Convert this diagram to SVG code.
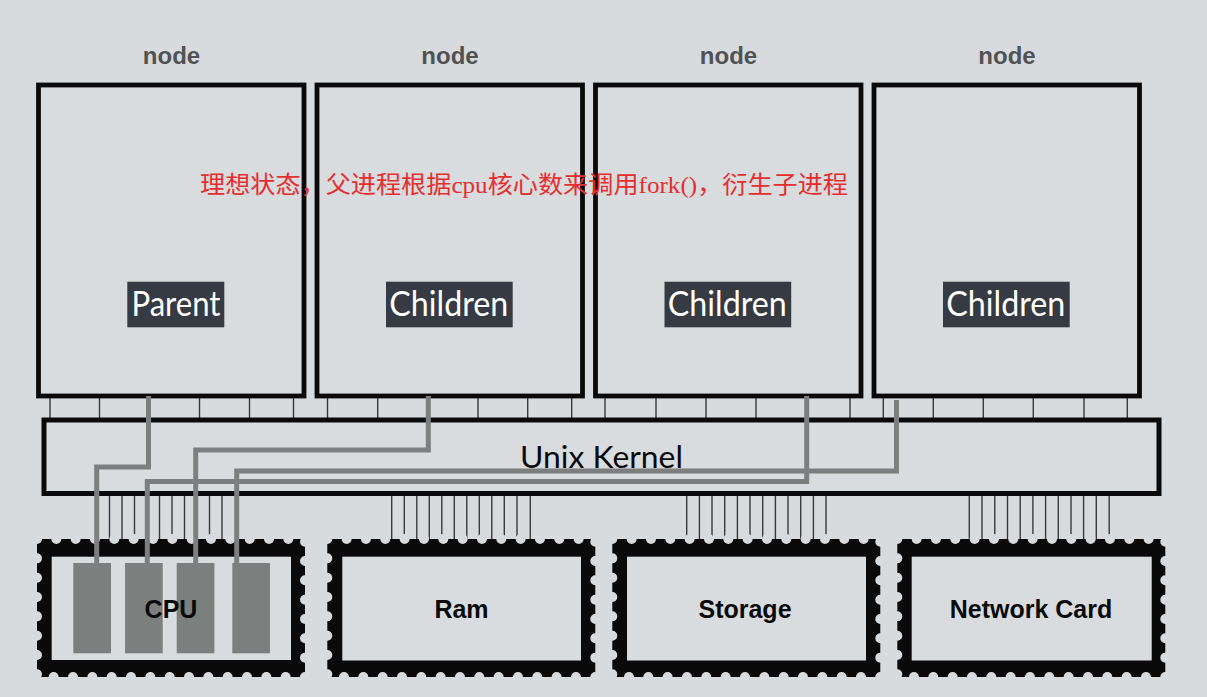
<svg xmlns="http://www.w3.org/2000/svg" width="1207" height="697" viewBox="0 0 1207 697">
<style>
.bg{fill:#d8dbde}
.box{fill:#d9dcdf;stroke:#0a0a0a;stroke-width:4.8}
.title{font-family:"Liberation Sans",Arial,sans-serif;font-weight:bold;font-size:24px;fill:#505254;text-anchor:middle}
.tag{fill:#363a42}
.tagt{font-family:Lato,"Open Sans",sans-serif;font-size:34px;fill:#ffffff;text-anchor:middle}
.kern{fill:#d9dcdf;stroke:#0a0a0a;stroke-width:5}
.kt{font-family:Lato,"Open Sans",sans-serif;font-size:31px;fill:#0a0a0a;text-anchor:middle}
.chip{fill:#0a0a0a}
.perf{fill:none;stroke:#d8dbde;stroke-width:10;stroke-linecap:round;stroke-dasharray:0 19.333}
.inner{fill:#d9dcdf}
.core{fill:#7b7f7e}
.ct{font-family:"Liberation Sans",Arial,sans-serif;font-weight:bold;font-size:25px;fill:#0a0a0a;text-anchor:middle}
.tick{stroke:#3a3a3a;stroke-width:1.4;fill:none}
.wire{stroke:#7d7f7f;stroke-width:5;fill:none;stroke-linejoin:miter}
.note{font-family:"Liberation Serif","Noto Sans CJK SC",serif;font-size:24px;fill:#e62e2e}
</style>
<rect class="bg" x="0" y="0" width="1207" height="697"/>

<g id="connectors">
  <!-- ticks between nodes and kernel -->
  <path class="tick" d="M50 397V419M99.5 397V419M149 397V419M199.5 397V419M249.5 397V419M293.5 397V419
  M327.5 397V419M377.7 397V419M478 397V419M527.7 397V419M571.7 397V419
  M605 397V419M656 397V419M706 397V419M756 397V419M850 397V419
  M883.3 397V419M933.3 397V419M983.3 397V419M1033.3 397V419M1084 397V419M1127.3 397V419"/>
  <!-- ticks between kernel and devices -->
  <path class="tick" d="M109.5 495V546M122 495V546M134.5 495V546M159.5 495V546M172 495V546M184.5 495V546M209.5 495V546M222 495V546"/>
  <path class="tick" d="M391.7 495V546M404.3 495V546M416.8 495V546M429.3 495V546M441.8 495V546M454.3 495V546M466.8 495V546M479.3 495V546M491.8 495V546M504.3 495V546M517 495V546M530.3 495V546"/>
  <path class="tick" d="M686.7 495V546M699.4 495V546M712 495V546M724.7 495V546M737.4 495V546M750 495V546M762.7 495V546M775.4 495V546M788 495V546M800.7 495V546M813.4 495V546M826 495V546"/>
  <path class="tick" d="M969.3 495V546M982 495V546M994.8 495V546M1007.5 495V546M1020.2 495V546M1032.9 495V546M1045.6 495V546M1058.3 495V546M1071 495V546M1083.6 495V546M1096.3 495V546M1109.2 495V546"/>
</g>

<g id="node-parent">
  <text class="title" x="171.5" y="64">node</text>
  <rect class="box" x="38.5" y="85" width="265.5" height="311"/>
  <rect class="tag" x="127.3" y="281.7" width="97" height="45.6"/>
  <text class="tagt" x="176" y="315.5" textLength="89" lengthAdjust="spacingAndGlyphs">Parent</text>
</g>
<g id="node-child-1">
  <text class="title" x="450" y="64">node</text>
  <rect class="box" x="317" y="85" width="265.5" height="311"/>
  <rect class="tag" x="386" y="281.7" width="126.7" height="45.6"/>
  <text class="tagt" x="448.8" y="315.5" textLength="119" lengthAdjust="spacingAndGlyphs">Children</text>
</g>
<g id="node-child-2">
  <text class="title" x="728.5" y="64">node</text>
  <rect class="box" x="595.5" y="85" width="265.5" height="311"/>
  <rect class="tag" x="664.5" y="281.7" width="126.7" height="45.6"/>
  <text class="tagt" x="727.3" y="315.5" textLength="119" lengthAdjust="spacingAndGlyphs">Children</text>
</g>
<g id="node-child-3">
  <text class="title" x="1007" y="64">node</text>
  <rect class="box" x="874" y="85" width="265.5" height="311"/>
  <rect class="tag" x="943" y="281.7" width="126.7" height="45.6"/>
  <text class="tagt" x="1005.8" y="315.5" textLength="119" lengthAdjust="spacingAndGlyphs">Children</text>
</g>

<g id="kernel">
  <rect class="kern" x="44" y="420" width="1115" height="73.5"/>
  <text class="kt" x="601.5" y="468" textLength="163" lengthAdjust="spacingAndGlyphs">Unix Kernel</text>
</g>

<g id="cpu">
  <rect class="chip" x="37" y="539" width="268" height="138"/>
  <rect class="perf" x="37" y="539" width="268" height="138"/>
  <rect class="inner" x="51.7" y="556.7" width="239.3" height="103.3"/>
  <rect class="core" x="73.3" y="563" width="37.7" height="90.3"/>
  <rect class="core" x="125" y="563" width="37.7" height="90.3"/>
  <rect class="core" x="176.7" y="563" width="37.7" height="90.3"/>
  <rect class="core" x="232.3" y="563" width="37.7" height="90.3"/>
  <text class="ct" x="171" y="617.5">CPU</text>
</g>
<g id="ram">
  <rect class="chip" x="327.3" y="539" width="268" height="138"/>
  <rect class="perf" x="327.3" y="539" width="268" height="138"/>
  <rect class="inner" x="342.3" y="556.7" width="238.7" height="103.8"/>
  <text class="ct" x="461.5" y="617.5">Ram</text>
</g>
<g id="storage">
  <rect class="chip" x="612.3" y="539" width="268" height="138"/>
  <rect class="perf" x="612.3" y="539" width="268" height="138"/>
  <rect class="inner" x="627" y="556.7" width="239" height="103.8"/>
  <text class="ct" x="745" y="617.5">Storage</text>
</g>
<g id="network-card">
  <rect class="chip" x="897.3" y="539" width="268" height="138"/>
  <rect class="perf" x="897.3" y="539" width="268" height="138"/>
  <rect class="inner" x="911.7" y="556.7" width="240" height="103.8"/>
  <text class="ct" x="1031" y="617.5">Network Card</text>
</g>

<g id="wires">
  <path class="wire" d="M148.5 396V467H96.7V563"/>
  <path class="wire" d="M428.3 396V450H195.7V563"/>
  <path class="wire" d="M806.7 396V481.5H147.3V563"/>
  <path class="wire" d="M896.5 400V471H236.7V563"/>
</g>

<text class="note" x="200" y="193" textLength="648" lengthAdjust="spacingAndGlyphs">理想状态，父进程根据cpu核心数来调用fork()，衍生子进程</text>
</svg>
